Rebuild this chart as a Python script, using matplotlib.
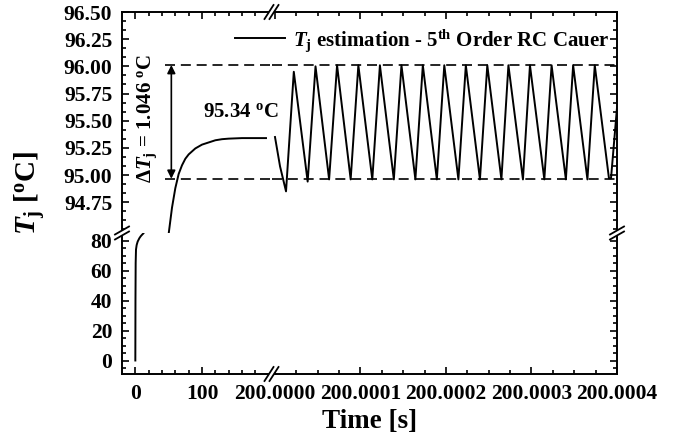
import matplotlib.pyplot as plt
import numpy as np
from matplotlib.lines import Line2D
from matplotlib.patches import Polygon
from matplotlib.ticker import MultipleLocator, AutoMinorLocator, FixedLocator, FuncFormatter

plt.rcParams['font.family'] = 'Liberation Serif'
plt.rcParams['font.weight'] = 'bold'
plt.rcParams['mathtext.fontset'] = 'custom'
plt.rcParams['mathtext.rm'] = 'Liberation Serif:bold'
plt.rcParams['mathtext.it'] = 'Liberation Serif:italic:bold'
plt.rcParams['mathtext.bf'] = 'Liberation Serif:bold'

# heating transient (s, degC)
heat_t = [0, 0.2, 0.5, 1, 2, 3.5, 6, 8, 10, 12, 15, 20, 25, 30, 35, 40, 45, 50,
          55, 60, 65, 70, 75, 80, 90, 100, 110, 120, 130, 140, 160, 180, 196]
heat_T = [0, 40, 65, 74, 77, 79.3, 81.5, 82.8, 83.8, 84.7, 86.6, 89.1, 90.8, 92.1,
          93.0, 93.64, 94.11, 94.46, 94.70, 94.88, 95.01, 95.09, 95.15, 95.19,
          95.245, 95.28, 95.30, 95.32, 95.33, 95.335, 95.34, 95.34, 95.34]

# steady state ripple, time in microseconds after t = 200 s
rip_start_t = [0.0, 5.9]
rip_start_T = [95.35, 95.08]
rip_min_t = [12.9, 38.2, 63.3, 88.5, 113.8, 139.0, 164.2, 189.3, 214.5, 239.7,
             264.8, 290.0, 315.0, 340.2, 365.4, 390.6]
rip_min_T = [94.85, 94.94, 94.96, 94.96, 94.96, 94.96, 94.96, 94.96, 94.96, 94.96,
             94.96, 94.96, 94.96, 94.96, 94.96, 94.97]
rip_pk_t = [22.0, 47.4, 72.6, 97.5, 122.7, 147.9, 172.9, 198.0, 223.2, 248.3,
            273.0, 298.2, 323.5, 348.7, 374.0]
rip_pk_T = [95.95, 96.00, 96.01, 96.01, 96.01, 96.01, 96.01, 96.01, 96.01, 96.01,
            96.01, 96.01, 96.01, 96.01, 96.01]
rip_end_t = [393.0, 400.0]
rip_end_T = [94.97, 95.62]

band_hi = 96.012
band_lo = 94.966
mean_T = 95.34
delta_T = 1.046

rip_t = list(rip_start_t)
rip_T = list(rip_start_T)
for i in range(len(rip_min_t)):
    rip_t.append(rip_min_t[i])
    rip_T.append(rip_min_T[i])
    if i < len(rip_pk_t):
        rip_t.append(rip_pk_t[i])
        rip_T.append(rip_pk_T[i])
rip_t += rip_end_t
rip_T += rip_end_T

W, H = 690, 445
fig = plt.figure(figsize=(W / 100, H / 100), dpi=100)

# frame in pixels
PL, PR, PXB = 122, 617, 272
PT, PB, PYB = 12, 374, 233


def box(x0, x1, y0, y1):
    return [x0 / W, 1 - y1 / H, (x1 - x0) / W, (y1 - y0) / H]


ax_ul = fig.add_axes(box(PL, PXB, PT, PYB))
ax_ur = fig.add_axes(box(PXB, PR, PT, PYB))
ax_ll = fig.add_axes(box(PL, PXB, PYB, PB))
ax_lr = fig.add_axes(box(PXB, PR, PYB, PB))

lw = 1.4
label = r'$T_{\mathrm{j}}$ estimation - 5$^{\mathrm{th}}$ Order RC Cauer'
ax_ul.plot(heat_t, heat_T, color='k', lw=lw)
ax_ll.plot(heat_t, heat_T, color='k', lw=lw)
ax_ur.plot(rip_t, rip_T, color='k', lw=lw, label=label)

for ax in (ax_ul, ax_ll):
    ax.set_xlim(-20, 205)
    ax.xaxis.set_major_locator(FixedLocator([0, 100]))
    ax.xaxis.set_minor_locator(FixedLocator([20, 40, 60, 80, 120, 140, 160, 180]))
for ax in (ax_ur, ax_lr):
    ax.set_xlim(-3.5, 400)
    ax.xaxis.set_major_locator(MultipleLocator(100))
    ax.xaxis.set_minor_locator(AutoMinorLocator(4))
    ax.xaxis.set_major_formatter(FuncFormatter(lambda v, p: f'{200 + v * 1e-6:.4f}'))
for ax in (ax_ul, ax_ur):
    ax.set_ylim(94.467, 96.5)
    ax.yaxis.set_major_locator(FixedLocator(np.arange(94.75, 96.51, 0.25)))
    ax.yaxis.set_minor_locator(AutoMinorLocator(3))
    ax.yaxis.set_major_formatter(FuncFormatter(lambda v, p: f'{v:.2f}'))
for ax in (ax_ll, ax_lr):
    ax.set_ylim(-9, 85)
    ax.yaxis.set_major_locator(MultipleLocator(20))
    ax.yaxis.set_minor_locator(AutoMinorLocator(4))

sides = {
    ax_ul: ('left', 'top'),
    ax_ur: ('right', 'top'),
    ax_ll: ('left', 'bottom'),
    ax_lr: ('right', 'bottom'),
}
for ax, keep in sides.items():
    for name, sp in ax.spines.items():
        sp.set_linewidth(lw)
        sp.set_visible(name in keep)
    ax.set_facecolor('none')
    ax.tick_params(which='both', direction='in', width=1.2,
                   left='left' in keep, right='right' in keep,
                   top='top' in keep, bottom='bottom' in keep,
                   labelleft=(ax in (ax_ul, ax_ll)), labelright=False,
                   labeltop=False, labelbottom=(ax in (ax_ll, ax_lr)),
                   labelsize=15.5, pad=7)
    ax.tick_params(which='major', length=5)
    ax.tick_params(which='minor', length=2.6)

# ripple band
dash = (0, (6, 3.5))
ax_ul.hlines([band_hi, band_lo], 45, 205, colors='k', lw=1.2, linestyles=[dash])
ax_ur.hlines([band_hi, band_lo], -3.5, 400, colors='k', lw=1.2, linestyles=[dash])

ax_ul.annotate('', xy=(54, band_lo), xytext=(54, band_hi),
               arrowprops=dict(arrowstyle='<|-|>', color='k', lw=1.2,
                               mutation_scale=12, shrinkA=0, shrinkB=0))
ax_ul.text(18, 95.52, r'Δ$T_{\mathrm{j}}$ = ' + f'{delta_T:.3f}' + r' $^{\mathrm{o}}$C',
           rotation=90, ha='center', va='center', fontsize=15)
ax_ul.text(102, 95.58, f'{mean_T:.2f}' + r' $^{\mathrm{o}}$C',
           ha='left', va='center', fontsize=15)

ax_ur.legend(loc='center left', bbox_to_anchor=(235 / W, 1 - 40 / H),
             bbox_transform=fig.transFigure, frameon=False, fontsize=15,
             handlelength=2.4, handletextpad=0.4, borderpad=0, borderaxespad=0)


def fpt(x, y):
    return (x / W, 1 - y / H)


def slash_pair(p1a, p1b, p2a, p2b):
    poly = Polygon([fpt(*p1a), fpt(*p1b), fpt(*p2b), fpt(*p2a)], closed=True,
                   facecolor='white', edgecolor='none', transform=fig.transFigure)
    fig.add_artist(poly)
    for a, b in ((p1a, p1b), (p2a, p2b)):
        xa, ya = fpt(*a)
        xb, yb = fpt(*b)
        fig.add_artist(Line2D([xa, xb], [ya, yb], color='k', lw=1.3,
                              transform=fig.transFigure))


# x-axis breaks (top and bottom)
for yy in (PT, PB):
    c1, c2 = PXB - 3, PXB + 2
    slash_pair((c1 - 4.5, yy + 7), (c1 + 4.5, yy - 7), (c2 - 4.5, yy + 7), (c2 + 4.5, yy - 7))
# y-axis breaks (left and right)
for xx in (PL, PR):
    c1, c2 = PYB + 2.5, PYB - 2.5
    slash_pair((xx - 7, c1 + 4), (xx + 7, c1 - 4), (xx - 7, c2 + 4), (xx + 7, c2 - 4))

fig.text(30 / W, 1 - 193 / H, r'$T_{\mathrm{j}}$ [$^{\mathrm{o}}$C]', rotation=90,
         ha='center', va='center', fontsize=21)
fig.text((PL + PR) / 2 / W, 1 - 422 / H, 'Time [s]', ha='center', va='center', fontsize=19.5)

fig.savefig('out.png', dpi=100)
